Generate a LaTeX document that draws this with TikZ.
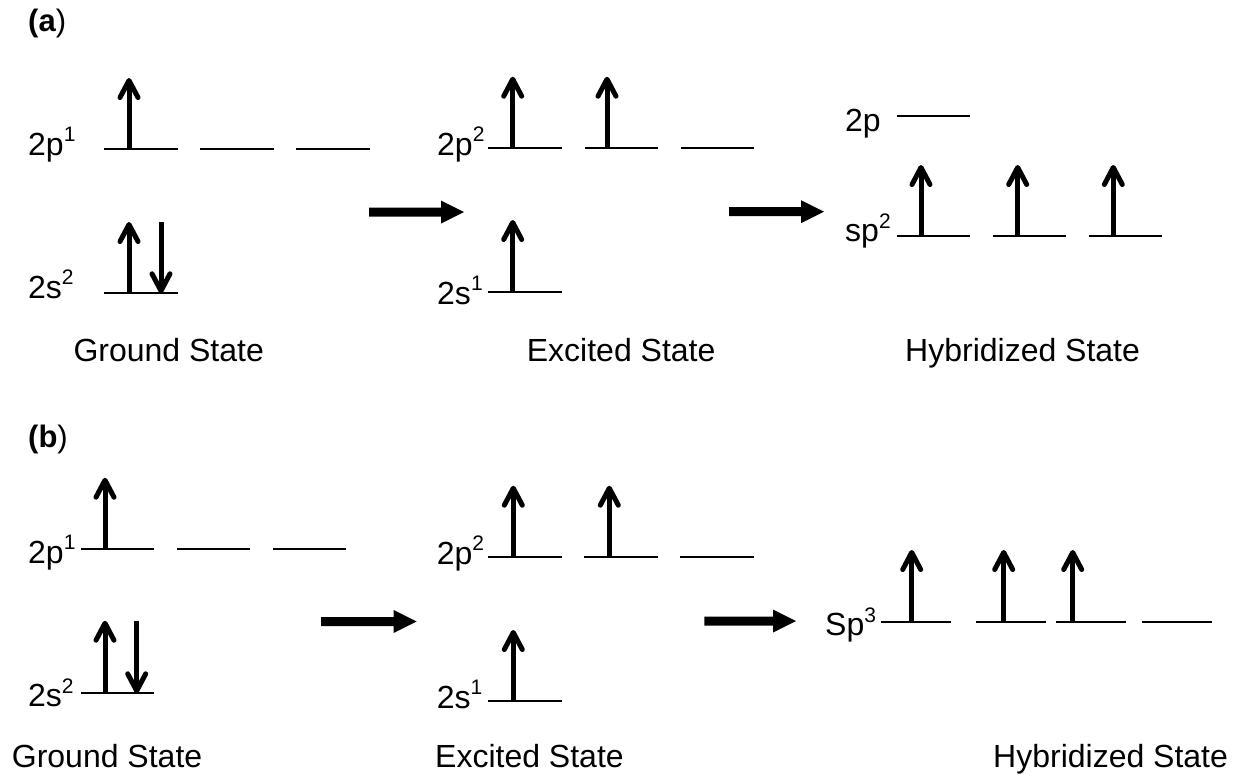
\documentclass[tikz,border=0pt]{standalone}
\usepackage{fontspec}
\setmainfont{Liberation Sans}
\newcommand\sups[1]{\raisebox{0.42em}{\fontsize{21}{24}\selectfont #1}}
\newcommand\lvlline[3]{\draw[lvl] (#1,#3) -- (#2,#3);}
\newcommand\eup[3]{%
  \draw[line width=5pt] (#1,#2) -- (#1,#3+3);
  \draw[line width=5pt,line cap=round,line join=round] (#1-9,#3+19.5) -- (#1,#3+2.5) -- (#1+9,#3+19.5);}
\newcommand\edown[3]{%
  \draw[line width=5pt] (#1,#2) -- (#1,#3-3);
  \draw[line width=5pt,line cap=round,line join=round] (#1-9,#3-19.5) -- (#1,#3-2.5) -- (#1+9,#3-19.5);}
\newcommand\bigarrow[4]{%
  \coordinate (#4s) at (#1,#3);
  \coordinate (#4e) at (#2,#3);
  \fill (#4s) ++(0,-4.5) -- (#2-23,#3-4.5) -- (#2-23,#3-11.5) -- (#4e) -- (#2-23,#3+11.5) -- (#2-23,#3+4.5) -- (#1,#3+4.5) -- cycle;}
\begin{document}
\begin{tikzpicture}[x=1pt,y=-1pt,
  lvl/.style={line width=2.2pt},
  lab/.style={anchor=base west,inner sep=0pt,font=\fontsize{32}{38}\selectfont},
  tag/.style={anchor=base west,inner sep=0pt,font=\fontsize{31}{36}\selectfont}]
\useasboundingbox (0,0) rectangle (1235,774);
% ---------- (a) ----------
\node[tag] (ta) at (28,31) {\textbf{(a})};
% ground
\lvlline{104}{178}{149.3}\lvlline{200}{274}{149.3}\lvlline{296}{370}{149.3}
\lvlline{104}{178}{293.3}
\eup{129}{149.3}{78}
\eup{129}{293.3}{222}
\edown{161}{222}{293.3}
\node[lab] (ag2p) at (28,155) {2p\sups{1}};
\node[lab] (ag2s) at (28,298) {2s\sups{2}};
\node[lab] (agl) at (73.3,361) {Ground State};
\bigarrow{369}{464}{212}{aA}
% excited
\lvlline{488}{562}{147.7}\lvlline{585}{658}{147.7}\lvlline{681}{754}{147.7}
\lvlline{488}{562}{291.7}
\eup{512.7}{147.7}{76.7}
\eup{607}{147.7}{76.7}
\eup{512.7}{291.7}{220}
\node[lab] (ae2p) at (437,155) {2p\sups{2}};
\node[lab] (ae2s) at (437,304) {2s\sups{1}};
\node[lab] (ael) at (526.7,361) {Excited State};
\bigarrow{729}{824}{211.7}{aB}
% hybridized
\lvlline{896.7}{970}{115.7}
\lvlline{896.7}{970}{235.7}\lvlline{992.7}{1066}{235.7}\lvlline{1088.7}{1162}{235.7}
\eup{921}{235.7}{165}
\eup{1017.7}{235.7}{165}
\eup{1113.3}{235.7}{165}
\node[lab] (ah2p) at (845,131.7) {2p};
\node[lab] (ahsp) at (845,241.7) {sp\sups{2}};
\node[lab] (ahl) at (905,361) {Hybridized State};
% ---------- (b) ----------
\node[tag] (tb) at (28,447) {\textbf{(b})};
% ground
\lvlline{81}{154}{549}\lvlline{177}{250}{549}\lvlline{273}{346}{549}
\lvlline{81}{154}{693.3}
\eup{105}{549}{477.7}
\eup{105}{693.3}{620.7}
\edown{136.7}{620.7}{693.3}
\node[lab] (bg2p) at (28,563.3) {2p\sups{1}};
\node[lab] (bg2s) at (28,706.7) {2s\sups{2}};
\node[lab] (bgl) at (11.7,767) {Ground State};
\bigarrow{321}{416.7}{621.5}{bA}
% excited
\lvlline{488}{562}{557}\lvlline{584}{658}{557}\lvlline{680}{754}{557}
\lvlline{488}{562}{701}
\eup{513.3}{557}{485.7}
\eup{609.3}{557}{485.7}
\eup{513.3}{701}{630}
\node[lab] (be2p) at (436.7,564) {2p\sups{2}};
\node[lab] (be2s) at (436.7,708) {2s\sups{1}};
\node[lab] (bel) at (435,767) {Excited State};
\bigarrow{704.3}{796}{621}{bB}
% hybridized
\lvlline{881}{951}{622}\lvlline{975.7}{1045.7}{622}\lvlline{1055.7}{1125.7}{622}\lvlline{1142}{1212}{622}
\eup{911.7}{622}{550}
\eup{1003.7}{622}{550}
\eup{1072.7}{622}{550}
\node[lab] (bhsp) at (825,635.7) {Sp\sups{3}};
\node[lab] (bhl) at (993,767) {Hybridized State};
\end{tikzpicture}
\end{document}
